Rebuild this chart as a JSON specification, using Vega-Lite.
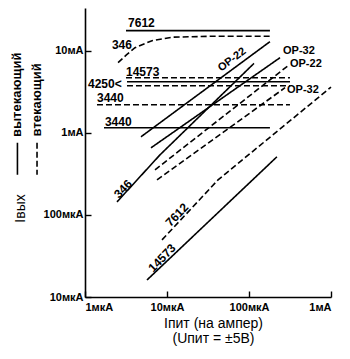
{
  "$schema": "https://vega.github.io/schema/vega-lite/v6.json",
  "width": 246,
  "height": 289,
  "autosize": "none",
  "padding": {"left": 85, "top": 8, "right": 19, "bottom": 62},
  "background": "white",
  "config": {
    "view": {"stroke": null},
    "font": "Liberation Sans",
    "axis": {
      "grid": false,
      "domainColor": "black",
      "domainWidth": 1.6,
      "tickColor": "black",
      "tickWidth": 1.4,
      "tickSize": -6,
      "labelColor": "black",
      "labelFont": "Liberation Sans",
      "labelFontWeight": "bold",
      "labelFontSize": 11,
      "titleColor": "black",
      "titleFont": "Liberation Sans",
      "titleFontWeight": "normal"
    }
  },
  "datasets": {
    "lines": [
      {"series": "7612s", "type": "solid", "o": 1, "x": 3.16, "y": 17540},
      {"series": "7612s", "type": "solid", "o": 2, "x": 180, "y": 17540},
      {"series": "346d", "type": "dashed", "o": 1, "x": 2.53, "y": 7140},
      {"series": "346d", "type": "dashed", "o": 2, "x": 3.2, "y": 8900},
      {"series": "346d", "type": "dashed", "o": 3, "x": 4.07, "y": 10880},
      {"series": "346d", "type": "dashed", "o": 4, "x": 6.56, "y": 13240},
      {"series": "346d", "type": "dashed", "o": 5, "x": 11.5, "y": 14600},
      {"series": "346d", "type": "dashed", "o": 6, "x": 36.4, "y": 15000},
      {"series": "346d", "type": "dashed", "o": 7, "x": 180, "y": 15000},
      {"series": "14573d", "type": "dashed", "o": 1, "x": 3.16, "y": 4690},
      {"series": "14573d", "type": "dashed", "o": 2, "x": 316, "y": 4690},
      {"series": "4250s", "type": "solid", "o": 1, "x": 3.25, "y": 4190},
      {"series": "4250s", "type": "solid", "o": 2, "x": 316, "y": 4190},
      {"series": "4250d", "type": "dashed", "o": 1, "x": 3.25, "y": 3740},
      {"series": "4250d", "type": "dashed", "o": 2, "x": 316, "y": 3740},
      {"series": "3440d", "type": "dashed", "o": 1, "x": 1.4, "y": 2195},
      {"series": "3440d", "type": "dashed", "o": 2, "x": 316, "y": 2195},
      {"series": "3440s", "type": "solid", "o": 1, "x": 1.705, "y": 1151},
      {"series": "3440s", "type": "solid", "o": 2, "x": 180, "y": 1151},
      {"series": "OP22s", "type": "solid", "o": 1, "x": 4.82, "y": 894},
      {"series": "OP22s", "type": "solid", "o": 2, "x": 180, "y": 12880},
      {"series": "OP32s", "type": "solid", "o": 1, "x": 6.38, "y": 656},
      {"series": "OP32s", "type": "solid", "o": 2, "x": 239, "y": 8220},
      {"series": "346s", "type": "solid", "o": 1, "x": 2.456, "y": 144},
      {"series": "346s", "type": "solid", "o": 2, "x": 8.22, "y": 539},
      {"series": "346s", "type": "solid", "o": 3, "x": 115, "y": 7000},
      {"series": "OP22d", "type": "dashed", "o": 1, "x": 7.14, "y": 354},
      {"series": "OP22d", "type": "dashed", "o": 2, "x": 299, "y": 6560},
      {"series": "OP32d", "type": "dashed", "o": 1, "x": 7.55, "y": 267},
      {"series": "OP32d", "type": "dashed", "o": 2, "x": 275, "y": 3540},
      {"series": "7612d", "type": "dashed", "o": 1, "x": 8.69, "y": 49.6},
      {"series": "7612d", "type": "dashed", "o": 2, "x": 41.9, "y": 267},
      {"series": "7612d", "type": "dashed", "o": 3, "x": 1000, "y": 3600},
      {"series": "14573s", "type": "solid", "o": 1, "x": 5.7, "y": 16.1},
      {"series": "14573s", "type": "solid", "o": 2, "x": 219, "y": 510},
      {"series": "legS", "type": "solid", "o": 1, "x": 0.15, "y": 755},
      {"series": "legS", "type": "solid", "o": 2, "x": 0.15, "y": 308},
      {"series": "legD", "type": "dashed", "o": 1, "x": 0.26, "y": 755},
      {"series": "legD", "type": "dashed", "o": 2, "x": 0.26, "y": 308}
    ],
    "flatLabels": [
      {"label": "7612", "x": 3.35, "y": 21900},
      {"label": "346", "x": 2.13, "y": 11830},
      {"label": "14573", "x": 3.16, "y": 5550},
      {"label": "4250<", "x": 1.088, "y": 3960},
      {"label": "3440", "x": 1.4, "y": 2673},
      {"label": "3440", "x": 1.75, "y": 1361}
    ],
    "opLabels": [
      {"label": "OP-32", "x": 260, "y": 9800},
      {"label": "OP-22", "x": 316, "y": 6850},
      {"label": "OP-32", "x": 291, "y": 3340}
    ],
    "diagLabels": [
      {"label": "346", "x": 2.91, "y": 207},
      {"label": "7612", "x": 13.2, "y": 100},
      {"label": "14573", "x": 8.69, "y": 29.9}
    ],
    "op22Label": [
      {"label": "OP-22", "x": 62.1, "y": 7760}
    ],
    "legendText": [
      {"label": "вытекающий", "x": 0.15, "y": 2904},
      {"label": "втекающий", "x": 0.26, "y": 2523}
    ]
  },
  "layer": [
    {
      "data": {"name": "lines"},
      "mark": {"type": "line", "color": "black", "strokeWidth": 1.6, "clip": false},
      "encoding": {
        "x": {
          "field": "x", "type": "quantitative",
          "scale": {"type": "log", "domain": [1, 1000], "nice": false},
          "axis": {
            "values": [1, 10, 100, 1000],
            "labelExpr": "datum.value == 1 ? '1мкА' : datum.value == 10 ? '10мкА' : datum.value == 100 ? '100мкА' : '1мА'",
            "labelPadding": 10,
            "title": ["Iпит (на ампер)", "(Uпит = ±5В)"],
            "titleFontSize": 14,
            "titlePadding": 4,
            "titleX": 128,
            "titleLineHeight": 15
          }
        },
        "y": {
          "field": "y", "type": "quantitative",
          "scale": {"type": "log", "domain": [10, 33113], "nice": false},
          "axis": {
            "values": [10, 100, 1000, 10000],
            "labelExpr": "datum.value == 10 ? '10мкА' : datum.value == 100 ? '100мкА' : datum.value == 1000 ? '1мА' : '10мА'",
            "labelPadding": 8,
            "title": "Iвых",
            "titleFontSize": 14,
            "titleX": -58,
            "titleY": 200
          }
        },
        "detail": {"field": "series"},
        "order": {"field": "o"},
        "strokeDash": {
          "field": "type", "type": "nominal",
          "scale": {"domain": ["solid", "dashed"], "range": [[1, 0], [6, 3]]},
          "legend": null
        }
      }
    },
    {
      "data": {"name": "flatLabels"},
      "mark": {"type": "text", "align": "left", "baseline": "middle", "fontSize": 12, "fontWeight": "bold", "color": "black"},
      "encoding": {
        "x": {"field": "x", "type": "quantitative"},
        "y": {"field": "y", "type": "quantitative"},
        "text": {"field": "label"}
      }
    },
    {
      "data": {"name": "opLabels"},
      "mark": {"type": "text", "align": "left", "baseline": "middle", "fontSize": 11, "fontWeight": "bold", "color": "black"},
      "encoding": {
        "x": {"field": "x", "type": "quantitative"},
        "y": {"field": "y", "type": "quantitative"},
        "text": {"field": "label"}
      }
    },
    {
      "data": {"name": "diagLabels"},
      "mark": {"type": "text", "align": "center", "baseline": "middle", "fontSize": 12, "fontWeight": "bold", "color": "black", "angle": -46},
      "encoding": {
        "x": {"field": "x", "type": "quantitative"},
        "y": {"field": "y", "type": "quantitative"},
        "text": {"field": "label"}
      }
    },
    {
      "data": {"name": "op22Label"},
      "mark": {"type": "text", "align": "center", "baseline": "middle", "fontSize": 11, "fontWeight": "bold", "color": "black", "angle": -37},
      "encoding": {
        "x": {"field": "x", "type": "quantitative"},
        "y": {"field": "y", "type": "quantitative"},
        "text": {"field": "label"}
      }
    },
    {
      "data": {"name": "legendText"},
      "mark": {"type": "text", "align": "center", "baseline": "middle", "fontSize": 13, "fontWeight": "bold", "color": "black", "angle": 270},
      "encoding": {
        "x": {"field": "x", "type": "quantitative"},
        "y": {"field": "y", "type": "quantitative"},
        "text": {"field": "label"}
      }
    }
  ]
}
